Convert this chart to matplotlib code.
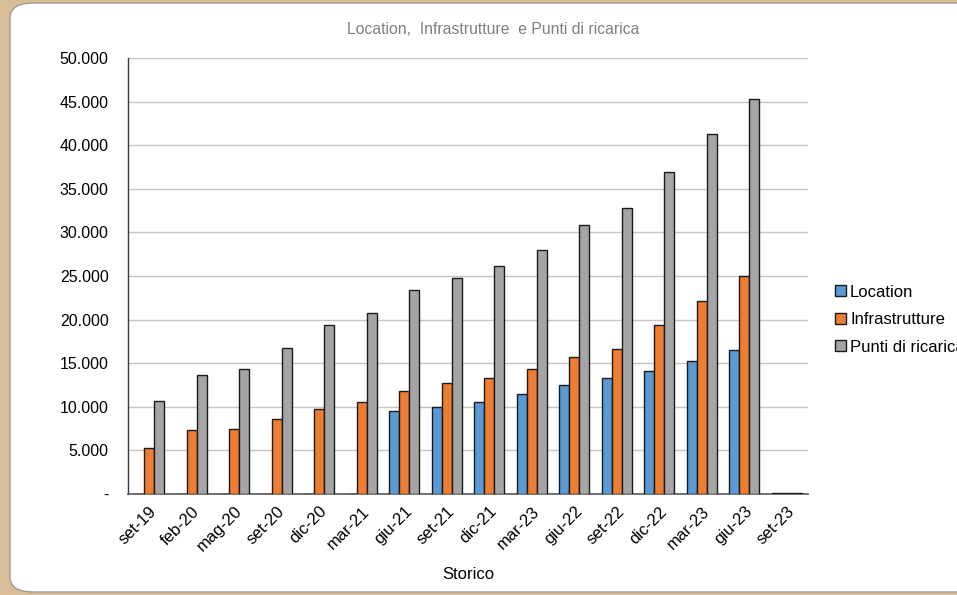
"""Location, Infrastrutture e Punti di ricarica."""
import matplotlib
matplotlib.use("Agg")
import matplotlib.pyplot as plt
import matplotlib.ticker as tkr
from matplotlib.patches import FancyBboxPatch
import numpy as np

plt.rcParams['font.family'] = ['Liberation Sans', 'DejaVu Sans']

labels = ["set-19", "feb-20", "mag-20", "set-20", "dic-20", "mar-21",
          "giu-21", "set-21", "dic-21", "mar-23", "giu-22", "set-22",
          "dic-22", "mar-23", "giu-23", "set-23"]

location = [0, 0, 0, 0, 0, 0,
            9500, 10000, 10550, 11450, 12500, 13300,
            14100, 15250, 16500, 100]
infrastrutture = [5300, 7300, 7450, 8600, 9750, 10550,
                  11800, 12700, 13300, 14300, 15700, 16600,
                  19400, 22100, 25000, 100]
punti = [10700, 13650, 14300, 16700, 19350, 20750,
         23350, 24800, 26100, 27950, 30800, 32800,
         36950, 41250, 45350, 100]

c_loc = "#5B9BD5"
c_inf = "#ED7D31"
c_pun = "#A5A5A5"

fig = plt.figure(figsize=(9.57, 5.95), dpi=100)
fig.patch.set_facecolor("#D9BD96")

# white rounded panel
W, H = 957.0, 595.0
panel = FancyBboxPatch((10 / W, 3 / H), 980 / W, 589 / H,
                       boxstyle="round,pad=0,rounding_size=0.025",
                       transform=fig.transFigure, facecolor="white",
                       edgecolor="#9a9a9a", linewidth=1.0, zorder=-5)
fig.patches.append(panel)

ax = fig.add_axes([128 / W, (H - 494) / H, 680 / W, 436 / H])
ax.set_zorder(2)
ax.set_facecolor("none")

x = np.arange(len(labels))
w = 0.235
kw = dict(edgecolor="#1a1a1a", linewidth=1.0, zorder=3)
ax.bar(x - w, location, w, color=c_loc, label="Location", **kw)
ax.bar(x, infrastrutture, w, color=c_inf, label="Infrastrutture", **kw)
ax.bar(x + w, punti, w, color=c_pun, label="Punti di ricarica", **kw)

ax.set_xlim(-0.5, len(labels) - 0.5)
ax.set_ylim(0, 50000)
ax.set_yticks(np.arange(0, 50001, 5000))


def it_thousands(v, pos):
    if v == 0:
        return "-"
    return "{:,d}".format(int(v)).replace(",", ".")


ax.yaxis.set_major_formatter(tkr.FuncFormatter(it_thousands))
ax.grid(axis="y", color="#c4c4c4", linewidth=1.0, zorder=0)
ax.set_axisbelow(True)

ax.set_xticks(x)
ax.set_xticklabels(labels, rotation=45, ha="right", rotation_mode="anchor")
ax.tick_params(axis="x", length=0, labelsize=12, colors="black", pad=7)
ax.tick_params(axis="y", length=0, labelsize=11.5, colors="black", pad=14)

for s in ["top", "right"]:
    ax.spines[s].set_visible(False)
ax.spines["left"].set_color("#3a3a3a")
ax.spines["bottom"].set_color("#5a5a5a")
ax.spines["left"].set_linewidth(1.0)
ax.spines["bottom"].set_linewidth(1.2)

ax.set_xlabel("Storico", fontsize=12, labelpad=9)
fig.text(493 / W, 1 - 29 / H, "Location,  Infrastrutture  e Punti di ricarica",
         ha="center", va="center", fontsize=11.3, color="#7f7f7f")

# legend runs past the right edge, as in the source image
leg = ax.legend(loc="center left", bbox_to_anchor=(1.03, 0.40),
                frameon=False, fontsize=12, handlelength=0.65,
                handleheight=0.65, handletextpad=0.25, labelspacing=0.75,
                borderaxespad=0)
for h in leg.legend_handles:
    h.set_edgecolor("#1a1a1a")
    h.set_linewidth(1.0)

fig.savefig("out.png", dpi=100, facecolor=fig.get_facecolor())
